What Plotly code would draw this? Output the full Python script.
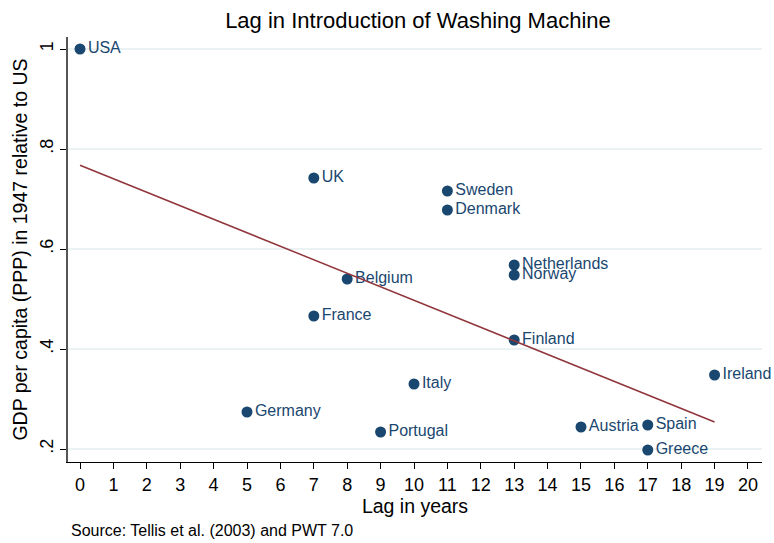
import numpy as np
import plotly.graph_objects as go

countries = ["USA", "UK", "Sweden", "Denmark", "Netherlands", "Norway", "Belgium",
             "France", "Finland", "Italy", "Ireland", "Germany", "Portugal",
             "Austria", "Spain", "Greece"]
lag_years = [0, 7, 11, 11, 13, 13, 8, 7, 13, 10, 19, 5, 9, 15, 17, 17]
gdp_rel_us = [1.0, 0.742, 0.716, 0.678, 0.568, 0.548, 0.540, 0.466, 0.418,
              0.330, 0.348, 0.274, 0.234, 0.244, 0.248, 0.198]

x_ticks = list(range(0, 21))
y_ticks = [0.2, 0.4, 0.6, 0.8, 1.0]
y_tick_labels = [".2", ".4", ".6", ".8", "1"]

# linear fit (like Stata lfit)
slope, intercept = np.polyfit(lag_years, gdp_rel_us, 1)
fit_x = [min(lag_years), max(lag_years)]
fit_y = [intercept + slope * v for v in fit_x]

FONT = "Liberation Sans, Arial, Helvetica, sans-serif"
NAVY = "#1a476f"
MAROON = "#90353b"

fig = go.Figure()
fig.add_trace(go.Scatter(
    x=lag_years, y=gdp_rel_us, mode="markers+text",
    text=countries, textposition="middle right",
    textfont=dict(family=FONT, size=16, color=NAVY),
    marker=dict(color=NAVY, size=11),
    cliponaxis=False, showlegend=False, hoverinfo="skip"))
fig.add_trace(go.Scatter(
    x=fit_x, y=fit_y, mode="lines",
    line=dict(color=MAROON, width=1.5), showlegend=False, hoverinfo="skip"))

fig.update_layout(
    width=774, height=543,
    margin=dict(l=68, r=12, t=37, b=81),
    paper_bgcolor="white", plot_bgcolor="white",
    font=dict(family=FONT, color="black"),
    title=dict(text="Lag in Introduction of Washing Machine",
               x=0.54, xanchor="center", y=0.963, yanchor="middle",
               font=dict(size=22, color="black")),
    xaxis=dict(range=[-0.36, 20.42], tickvals=x_ticks, automargin=False,
               ticks="outside", ticklen=6, tickcolor="black", tickwidth=1,
               showline=True, linecolor="black", linewidth=1,
               showgrid=False, zeroline=False,
               tickfont=dict(size=18, color="black"),
               title=dict(text="Lag in years", font=dict(size=19.5, color="black"),
                          standoff=4)),
    yaxis=dict(range=[0.174, 1.024], tickvals=y_ticks, ticktext=y_tick_labels,
               tickangle=-90, automargin=False,
               ticks="outside", ticklen=6, tickcolor="black", tickwidth=1,
               showline=True, linecolor="#555555", linewidth=1.5,
               showgrid=True, gridcolor="#eaf2f3", gridwidth=1.5,
               zeroline=False,
               tickfont=dict(size=18, color="black"),
               title=dict(text="GDP per capita (PPP) in 1947 relative to US",
                          font=dict(size=19.5, color="black"), standoff=4)),
    annotations=[dict(text="Source: Tellis et al. (2003) and PWT 7.0",
                      xref="paper", yref="paper", x=0.002, y=-0.16,
                      xanchor="left", yanchor="middle", showarrow=False,
                      font=dict(size=16, color="black"))],
)

fig.write_html("out.html", config={"displayModeBar": False},
               post_script="document.body.style.margin='0px';")
